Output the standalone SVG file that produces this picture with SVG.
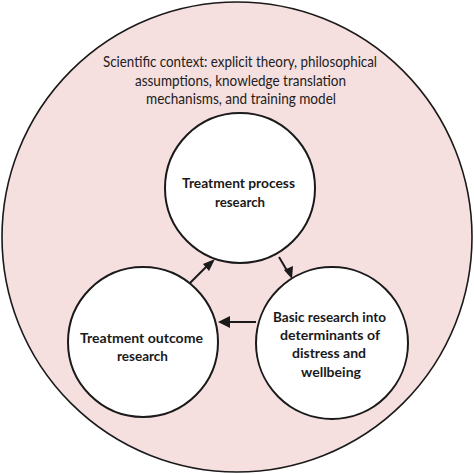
<svg xmlns="http://www.w3.org/2000/svg" width="474" height="474" viewBox="0 0 474 474">
<defs>
<style>
.outer{fill:#f6dfdf;stroke:#1a1a1a;stroke-width:1.6}
.node{fill:#ffffff;stroke:#1a1a1a;stroke-width:2}
.ctx{font-family:Lato,"Liberation Sans",sans-serif;font-size:15px;fill:#222;text-anchor:middle}
.lbl{font-family:Lato,"Liberation Sans",sans-serif;font-size:14px;font-weight:700;fill:#1a1a1a;text-anchor:middle}
.arr{fill:#1a1a1a}
.conn{stroke:#1a1a1a;stroke-width:2;fill:none}
</style>
</defs>
<g id="context">
<circle class="outer" cx="237" cy="237" r="235"/>
<text class="ctx" x="240" y="67" textLength="274" lengthAdjust="spacingAndGlyphs">Scientific context: explicit theory, philosophical</text>
<text class="ctx" x="240.5" y="86" textLength="211" lengthAdjust="spacingAndGlyphs">assumptions, knowledge translation</text>
<text class="ctx" x="241" y="104" textLength="190" lengthAdjust="spacingAndGlyphs">mechanisms, and training model</text>
</g>
<g id="connectors">
<line class="conn" x1="190" y1="283" x2="211" y2="262"/>
<path class="arr" d="M215,259 L203,264 L209,271 z"/>
<line class="conn" x1="279" y1="257" x2="289" y2="274"/>
<path class="arr" d="M292,279 L284,270 L293,266 z"/>
<line class="conn" x1="256" y1="322" x2="224" y2="322"/>
<path class="arr" d="M218,322 L230,316 L230,328 z"/>
</g>
<g id="process">
<circle class="node" cx="240" cy="188" r="75"/>
<text class="lbl" x="238.5" y="188" textLength="113" lengthAdjust="spacingAndGlyphs">Treatment process</text>
<text class="lbl" x="240" y="207" textLength="50" lengthAdjust="spacingAndGlyphs">research</text>
</g>
<g id="outcome">
<circle class="node" cx="143" cy="342" r="75"/>
<text class="lbl" x="141.5" y="343" textLength="123" lengthAdjust="spacingAndGlyphs">Treatment outcome</text>
<text class="lbl" x="142.5" y="361" textLength="51" lengthAdjust="spacingAndGlyphs">research</text>
</g>
<g id="basic">
<circle class="node" cx="332" cy="343" r="76"/>
<text class="lbl" x="329.5" y="322" textLength="113" lengthAdjust="spacingAndGlyphs">Basic research into</text>
<text class="lbl" x="330" y="340" textLength="100" lengthAdjust="spacingAndGlyphs">determinants of</text>
<text class="lbl" x="329" y="358" textLength="74" lengthAdjust="spacingAndGlyphs">distress and</text>
<text class="lbl" x="331" y="377" textLength="60" lengthAdjust="spacingAndGlyphs">wellbeing</text>
</g>
</svg>
